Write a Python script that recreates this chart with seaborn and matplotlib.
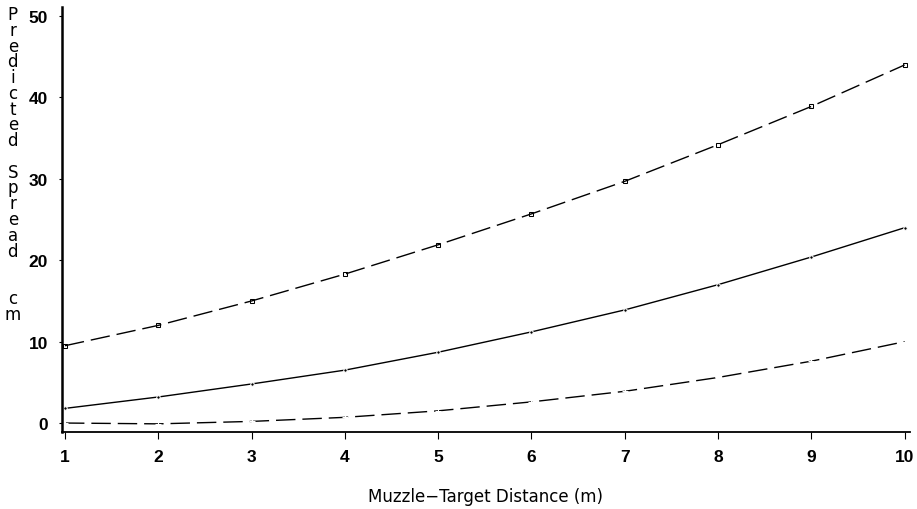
import pandas as pd
import numpy as np
import matplotlib
matplotlib.use("Agg")
import matplotlib.pyplot as plt
import seaborn as sns

# distances (m)
distance = [1, 2, 3, 4, 5, 6, 7, 8, 9, 10]

# predicted spread (cm)
upper = [9.5, 12.0, 15.0, 18.3, 21.9, 25.7, 29.7, 34.2, 38.9, 44.0]
middle = [1.8, 3.2, 4.8, 6.5, 8.7, 11.2, 13.9, 17.0, 20.4, 24.0]
lower = [0.0, -0.1, 0.2, 0.7, 1.5, 2.6, 3.9, 5.6, 7.6, 10.0]

y_ticks = [0, 10, 20, 30, 40, 50]
y_label = "Predicted Spread  cm"
x_label = "Muzzle\u2212Target Distance (m)"

sns.set_style("white")
plt.rcParams['font.family'] = ['DejaVu Sans']
plt.rcParams['text.color'] = 'black'
plt.rcParams['axes.labelcolor'] = 'black'

fig = plt.figure(figsize=(9.17, 5.10), dpi=100)
ax = fig.add_axes([0.0676, 0.151, 0.9244, 0.833])

df_up = pd.DataFrame({'d': distance, 's': upper})
df_mid = pd.DataFrame({'d': distance, 's': middle})
df_low = pd.DataFrame({'d': distance, 's': lower})

sns.lineplot(data=df_up, x='d', y='s', ax=ax, color='black', linewidth=1.0,
             marker='s', markersize=2.5, markerfacecolor='none', markeredgecolor='black')
ax.lines[-1].set_dashes([14, 5])
sns.lineplot(data=df_mid, x='d', y='s', ax=ax, color='black', linewidth=1.0,
             marker='o', markersize=2.5)
sns.lineplot(data=df_low, x='d', y='s', ax=ax, color='black', linewidth=1.0,
             marker='+', markersize=4)
ax.lines[-1].set_dashes([14, 5])

ax.set_xlim(0.968, 10.054)
ax.set_ylim(-1.1, 51.1)
ax.set_xticks(distance)
ax.set_yticks(y_ticks)
ax.set_xticklabels([str(d) for d in distance], fontweight='bold', fontsize=12.5,
                   family='Liberation Sans')
ax.set_yticklabels([str(t) for t in y_ticks], fontweight='bold', fontsize=12.5,
                   family='Liberation Sans')
ax.tick_params(axis='x', direction='out', length=5, width=0.8, pad=7, colors='black')
ax.tick_params(axis='y', direction='out', length=2, width=0.8, pad=8, colors='black')
ax.xaxis.set_ticks_position('bottom')
ax.yaxis.set_ticks_position('left')

for side in ['top', 'right']:
    ax.spines[side].set_visible(False)
ax.spines['left'].set_linewidth(1.8)
ax.spines['bottom'].set_linewidth(1.3)
ax.spines['left'].set_color('black')
ax.spines['bottom'].set_color('black')

ax.set_xlabel(x_label, fontsize=12, labelpad=17, color='black')
ax.set_ylabel('')

# vertical stacked y label
fig.text(0.014, 0.988, "\n".join(y_label), fontsize=12, va='top', ha='center',
         linespacing=0.84, color='black')

fig.savefig("out.png", dpi=100)
